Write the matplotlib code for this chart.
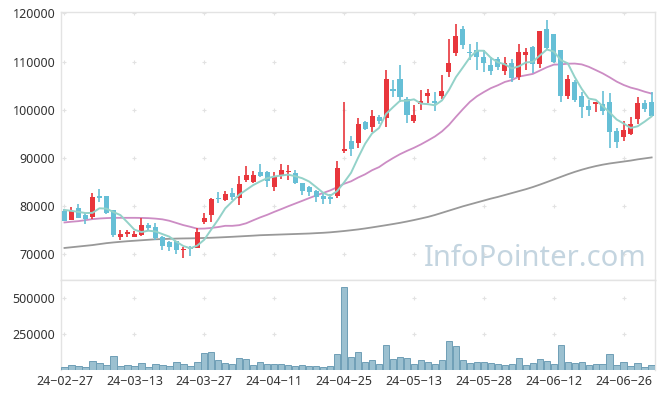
import numpy as np
import pandas as pd
import matplotlib
matplotlib.use("Agg")
import matplotlib.pyplot as plt

plt.rcParams['font.family'] = ['Noto Sans', 'DejaVu Sans']

# KRX trading days, 2024-02-27 .. 2024-07-02
holidays = ["2024-03-01", "2024-04-10", "2024-05-01", "2024-05-06", "2024-05-15", "2024-06-06"]
dates = pd.bdate_range("2024-02-27", "2024-07-02", freq="C", holidays=holidays)

opens = [79000, 77200, 79650, 78100, 77800, 81950, 82000, 79250, 73650, 74300,
         73650, 73900, 76100, 75600, 73600, 72550, 72750, 70900, 71500, 71250,
         76600, 78100, 81600, 81350, 82700, 81650, 85400, 84900, 87150, 87150,
         83900, 86250, 87000, 86850, 84850, 84000, 83100, 82150, 81800, 82150,
         91500, 93600, 93050, 97550, 96350, 98600, 98250, 104250, 106300, 102300,
         97750, 101150, 102800, 101850, 102800, 107850, 111800, 116700, 112000, 112500,
         110900, 109200, 110600, 107950, 109800, 106800, 111300, 113000, 109450, 116850,
         115700, 112350, 102950, 105750, 102950, 100700, 101150, 101100, 101700, 95550,
         94300, 95000, 98150, 101450, 101700]
highs = [79400, 79850, 80400, 78600, 82800, 83550, 82000, 79250, 75100, 75050,
         74850, 77500, 76500, 76400, 73750, 72650, 72750, 71500, 71750, 75550,
         78650, 81650, 82950, 83100, 83750, 86300, 88400, 87200, 88750, 87350,
         87150, 88750, 88550, 87550, 84850, 84250, 83250, 82500, 82600, 89450,
         101700, 94600, 98350, 97750, 99850, 99000, 108200, 106100, 109350, 102600,
         100900, 104150, 104250, 103650, 107300, 114800, 117900, 117350, 113750, 114100,
         112500, 110950, 110950, 110950, 110600, 113750, 112900, 113200, 116300, 118600,
         115700, 112350, 107150, 106100, 103650, 101950, 101700, 103850, 103550, 96250,
         97750, 98600, 102600, 102100, 103650]
lows = [76800, 77100, 77500, 76250, 77350, 80950, 78450, 73600, 72900, 73600,
        73600, 73750, 75100, 72900, 70850, 70700, 70100, 69250, 69650, 71250,
        76250, 76750, 80550, 81100, 81350, 80200, 84900, 84700, 85950, 83900,
        83200, 85600, 85400, 84600, 82300, 82150, 80850, 80400, 80400, 81650,
        91100, 90450, 92100, 95700, 95350, 97100, 96500, 102600, 101700, 97300,
        97300, 100000, 101350, 99650, 102300, 106800, 111100, 112700, 110250, 108350,
        107850, 107150, 108200, 107300, 105750, 106100, 108200, 107700, 108750, 112350,
        109700, 101600, 102150, 101700, 98300, 98650, 99500, 99000, 92100, 92100,
        93450, 94800, 97100, 99500, 98650]
closes = [77000, 79000, 77600, 77400, 81950, 81750, 78650, 74050, 74250, 74500,
          74100, 76100, 75500, 73450, 71800, 71400, 70850, 71050, 71050, 74650,
          77500, 81500, 81450, 82500, 81800, 84600, 86450, 86450, 86300, 85150,
          86300, 87550, 87350, 84700, 83050, 82850, 81800, 81400, 81500, 87950,
          91950, 91800, 96950, 95950, 98800, 97600, 106300, 104000, 102600, 98950,
          99000, 101850, 103400, 101450, 104000, 109800, 115250, 113550, 111800, 110950,
          109700, 107950, 108850, 109800, 106600, 111900, 111950, 109600, 116300, 112800,
          109900, 102950, 106300, 101950, 100550, 99850, 101700, 99700, 95350, 93250,
          95700, 97100, 101450, 100200, 98650]
volumes = [16000, 31000, 24000, 16000, 59000, 45000, 31000, 93000, 24000, 31000,
           24000, 43000, 16000, 38000, 31000, 24000, 52000, 38000, 24000, 52000,
           116000, 124000, 66000, 45000, 38000, 81000, 74000, 31000, 52000, 38000,
           38000, 38000, 31000, 24000, 31000, 24000, 24000, 16000, 24000, 109000,
           579000, 86000, 124000, 52000, 66000, 38000, 171000, 71000, 86000, 78000,
           38000, 66000, 52000, 38000, 66000, 202000, 166000, 66000, 45000, 52000,
           52000, 45000, 38000, 31000, 38000, 81000, 31000, 45000, 74000, 59000,
           38000, 174000, 52000, 45000, 52000, 31000, 38000, 38000, 109000, 31000,
           52000, 24000, 45000, 16000, 31000]

# moving-average values before enough history is on the chart
ma5_head = [79200, 79000, 78800, 78550]
ma20_head = [76600, 76750, 76870, 77080, 77290, 77420, 77500, 77560, 77560, 77560,
             77560, 77540, 77500, 77400, 77250, 76950, 76500, 76050, 75700]
ma60 = [71300, 71450, 71600, 71750, 71900, 72100, 72300, 72450, 72580, 72700,
        72800, 72900, 73000, 73100, 73150, 73200, 73250, 73280, 73300, 73330,
        73380, 73420, 73480, 73550, 73620, 73700, 73780, 73860, 73950, 74000,
        74050, 74100, 74150, 74200, 74250, 74300, 74380, 74450, 74550, 74680,
        74820, 74980, 75150, 75350, 75570, 75800, 76030, 76270, 76520, 76800,
        77100, 77420, 77750, 78150, 78600, 79050, 79500, 79950, 80350, 80750,
        81150, 81550, 81900, 82300, 82700, 83100, 83500, 83950, 84450, 84980,
        85520, 86060, 86600, 87100, 87550, 87950, 88300, 88600, 88850, 89050,
        89250, 89450, 89700, 89900, 90100]

df = pd.DataFrame({"open": opens, "high": highs, "low": lows, "close": closes, "vol": volumes}, index=dates)
ma5 = df["close"].rolling(5).mean().values
ma5[:4] = ma5_head
ma20 = df["close"].rolling(20).mean().values
ma20[:19] = ma20_head

up_col = "#e8363c"
down_col = "#66bfd6"
grid_col = "#e2e2e2"
text_col = "#333333"

x = np.arange(len(df))
o = df["open"].values
c = df["close"].values
col = [up_col if cc >= oo else down_col for oo, cc in zip(o, c)]

fig = plt.figure(figsize=(6.65, 3.98), dpi=100)
ax = fig.add_axes([0.0917, 0.2965, 0.8940, 0.6733])
axv = fig.add_axes([0.0917, 0.0716, 0.8940, 0.2249])

# price panel
ax.plot(x, ma60, color="#999999", linewidth=1.3, zorder=2)
ax.plot(x, ma20, color="#cc8cc4", linewidth=1.3, zorder=2)
ax.vlines(x, df["low"], df["high"], colors=col, linewidth=1.2, zorder=3)
body = np.maximum(np.abs(c - o), 250)
ax.bar(x, body, bottom=np.minimum(o, c), width=0.72, color=col, zorder=3)
ax.plot(x, ma5, color="#93d2c9", linewidth=1.4, zorder=4)

ax.set_xlim(-0.5, len(df) - 0.45)
ax.set_ylim(64650, 120300)
ax.set_yticks(np.arange(70000, 120001, 10000))
ax.set_xticks(x[::10])
ax.set_xticklabels([])
gx, gy = np.meshgrid(x[::10], np.arange(70000, 120001, 10000))
ax.scatter(gx.ravel(), gy.ravel(), marker="+", s=12, color=grid_col, linewidths=0.8, zorder=1)

ax.text(0.985, 0.08, "InfoPointer.com", transform=ax.transAxes, ha="right", va="center",
        fontsize=21, color="#c4d5e0", zorder=5)

# volume panel
axv.bar(x, df["vol"], width=0.92, color="#9bc0d0", edgecolor="#6f9fb6", linewidth=0.7, zorder=3)
axv.set_xlim(ax.get_xlim())
axv.set_ylim(0, 630000)
axv.set_yticks([250000, 500000])
axv.set_xticks(x[::10])
axv.set_xticklabels([d.strftime("%y-%m-%d").replace("-", "\u2212") for d in dates[::10]])
gx, gy = np.meshgrid(x[::10], [250000, 500000])
axv.scatter(gx.ravel(), gy.ravel(), marker="+", s=12, color=grid_col, linewidths=0.8, zorder=1)

for a in (ax, axv):
    a.tick_params(length=0, labelsize=9, colors=text_col, pad=4)
    for s in a.spines.values():
        s.set_color("#e3e3e3")
        s.set_linewidth(1)
axv.spines["bottom"].set_visible(False)

fig.savefig("out.png", dpi=100)
